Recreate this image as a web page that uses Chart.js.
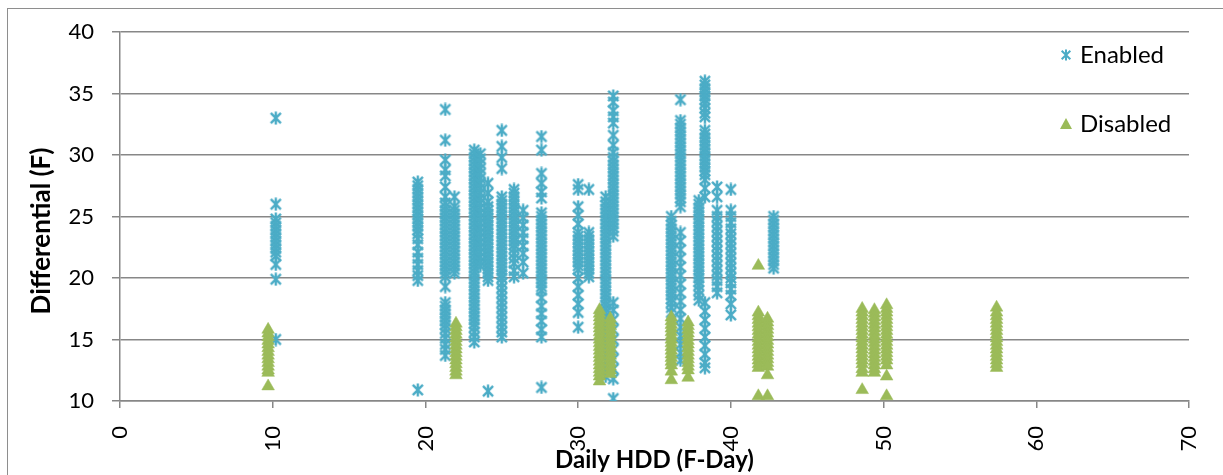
<!DOCTYPE html>
<html>
<head>
<meta charset="utf-8">
<script src="https://cdn.jsdelivr.net/npm/chart.js@4.4.1/dist/chart.umd.min.js"></script>
<style>
  html, body { margin: 0; padding: 0; background: #fff; }
  #wrap { width: 1223px; height: 475px; }
</style>
</head>
<body>
<div id="wrap"><canvas id="c" width="1223" height="475"></canvas></div>
<script>
// ---- Data ----
const seriesNames = ['Enabled', 'Disabled'];

// Daily HDD (F-Day) for each day with "Enabled" readings
const enabledHDD = [10.2, 19.5, 21.3, 21.9, 23.2, 23.6, 24.1, 25.0, 25.8, 26.4, 27.6, 30.0, 30.7, 31.8, 32.3, 36.1, 36.7, 37.9, 38.3, 39.1, 40.0, 42.8];
// Differential (F) readings for each of those days
const enabledDiff = [
  [33.0, 26.0, 24.8, 24.5, 24.2, 23.9, 23.6, 23.3, 23.0, 22.7, 22.4, 22.1, 21.8, 21.1, 19.9, 15.0],
  [27.8, 27.5, 27.2, 26.9, 26.6, 26.3, 26.0, 25.7, 25.4, 25.1, 24.8, 24.5, 24.2, 23.9, 23.6, 23.2, 22.7, 22.1, 21.6, 21.1, 20.6, 20.2, 19.8, 10.9],
  [33.7, 31.2, 29.6, 28.8, 28.3, 27.4, 26.6, 26.1, 25.8, 25.5, 25.2, 24.9, 24.6, 24.3, 24.0, 23.7, 23.4, 23.1, 22.8, 22.5, 22.2, 21.9, 21.6, 21.3, 21.0, 20.7, 20.4, 20.1, 19.3, 18.0, 17.7, 17.4, 17.1, 16.8, 16.5, 16.2, 15.9, 15.5, 15.1, 14.6, 14.2, 13.7],
  [26.6, 25.8, 25.5, 25.2, 24.9, 24.6, 24.3, 24.0, 23.7, 23.4, 23.1, 22.8, 22.5, 22.2, 21.9, 21.6, 21.3, 21.0, 20.7, 20.4],
  [30.4, 30.1, 29.8, 29.5, 29.2, 28.9, 28.6, 28.3, 28.0, 27.7, 27.4, 27.1, 26.8, 26.5, 26.2, 25.9, 25.6, 25.3, 25.0, 24.7, 24.4, 24.1, 23.8, 23.5, 23.2, 22.9, 22.6, 22.3, 22.0, 21.7, 21.4, 21.1, 20.8, 20.5, 20.2, 19.9, 19.6, 19.3, 19.0, 18.7, 18.4, 18.1, 17.8, 17.5, 17.2, 16.9, 16.6, 16.3, 16.0, 15.6, 15.2, 14.8],
  [30.1, 29.7, 29.3, 28.9, 28.5, 28.1, 27.7, 27.3, 26.9, 26.5, 26.1, 25.7, 25.3, 24.9, 24.5, 24.1, 23.7, 23.3, 22.9, 22.5, 22.1, 21.7, 21.3, 21.0],
  [27.7, 26.9, 26.2, 25.8, 25.5, 25.2, 24.9, 24.6, 24.3, 24.0, 23.7, 23.4, 23.1, 22.8, 22.5, 22.2, 21.9, 21.6, 21.3, 21.0, 20.7, 20.4, 20.1, 19.8, 10.8],
  [32.0, 30.7, 29.8, 28.9, 26.6, 26.3, 26.0, 25.7, 25.4, 25.1, 24.8, 24.5, 24.2, 23.9, 23.6, 23.3, 23.0, 22.7, 22.4, 22.1, 21.8, 21.5, 21.2, 20.9, 20.6, 20.3, 20.0, 19.6, 19.2, 18.8, 18.4, 18.0, 17.6, 17.2, 16.8, 16.4, 16.0, 15.6, 15.2],
  [27.2, 26.9, 26.6, 26.3, 26.0, 25.7, 25.4, 25.1, 24.8, 24.5, 24.2, 23.9, 23.6, 23.3, 23.0, 22.7, 22.4, 22.0, 21.6, 21.2, 20.6, 20.1],
  [25.5, 24.9, 24.3, 23.7, 23.2, 22.6, 22.0, 21.3, 20.4],
  [31.5, 30.4, 28.5, 27.7, 27.0, 26.5, 25.3, 25.0, 24.7, 24.4, 24.1, 23.8, 23.5, 23.2, 22.9, 22.6, 22.3, 22.0, 21.7, 21.4, 21.1, 20.8, 20.5, 20.2, 19.9, 19.6, 19.3, 19.0, 18.4, 17.7, 17.1, 16.5, 15.8, 15.2, 11.1],
  [27.6, 27.2, 25.8, 25.1, 24.4, 23.7, 23.4, 23.1, 22.8, 22.5, 22.2, 21.9, 21.6, 21.3, 21.0, 20.7, 20.0, 19.3, 18.6, 17.9, 17.2, 16.0],
  [27.2, 23.7, 23.4, 23.1, 22.8, 22.5, 22.2, 21.9, 21.6, 21.3, 21.0, 20.7, 20.4, 20.1],
  [26.6, 26.2, 25.9, 25.6, 25.3, 25.0, 24.7, 24.4, 24.1, 23.8, 23.5, 23.2, 22.9, 22.6, 22.3, 22.0, 21.7, 21.4, 21.1, 20.8, 20.5, 20.2, 19.9, 19.6, 19.3, 19.0, 18.7, 18.4, 18.1, 17.8, 17.5, 17.2, 16.9, 16.5, 16.0, 15.5, 15.0, 14.4, 13.8, 13.2, 12.6, 12.0],
  [34.8, 34.3, 33.6, 33.1, 32.6, 31.6, 30.8, 30.2, 29.8, 29.5, 29.2, 28.9, 28.6, 28.3, 28.0, 27.7, 27.4, 27.1, 26.8, 26.5, 26.2, 25.9, 25.6, 25.3, 25.0, 24.7, 24.4, 24.1, 23.8, 23.4, 18.0, 17.4, 16.6, 15.8, 15.0, 14.2, 13.4, 12.6, 11.8, 10.2],
  [25.0, 24.6, 24.3, 24.0, 23.7, 23.4, 23.1, 22.8, 22.5, 22.2, 21.9, 21.6, 21.3, 21.0, 20.7, 20.4, 20.1, 19.8, 19.5, 19.2, 18.9, 18.6, 18.3, 18.0, 17.6, 17.2],
  [34.5, 32.8, 32.5, 32.2, 31.9, 31.6, 31.3, 31.0, 30.7, 30.4, 30.1, 29.8, 29.5, 29.2, 28.9, 28.6, 28.3, 28.0, 27.7, 27.4, 27.1, 26.8, 26.5, 26.2, 25.8, 23.7, 23.0, 22.3, 21.6, 20.9, 20.2, 19.5, 18.8, 18.1, 17.4, 16.7, 16.0, 15.3, 14.6, 13.9, 13.3],
  [26.3, 26.0, 25.7, 25.4, 25.1, 24.8, 24.5, 24.2, 23.9, 23.6, 23.3, 23.0, 22.7, 22.4, 22.1, 21.8, 21.5, 21.2, 20.9, 20.6, 20.3, 20.0, 19.7, 19.4, 19.0, 18.6, 18.2],
  [36.0, 35.7, 35.4, 35.1, 34.8, 34.5, 34.2, 33.8, 33.4, 33.1, 32.0, 31.7, 31.4, 31.1, 30.8, 30.5, 30.2, 29.9, 29.6, 29.3, 29.0, 28.7, 28.4, 28.0, 27.3, 26.6, 18.0, 17.3, 16.6, 15.9, 15.2, 14.5, 13.8, 13.1, 12.7],
  [27.4, 26.6, 25.5, 25.0, 24.6, 24.2, 23.8, 23.4, 23.0, 22.6, 22.2, 21.8, 21.4, 21.0, 20.6, 20.2, 19.8, 19.3, 18.8],
  [27.2, 25.5, 25.0, 24.5, 24.0, 23.6, 23.2, 22.8, 22.4, 22.0, 21.6, 21.2, 20.8, 20.4, 20.0, 19.6, 19.1, 18.6, 17.9, 17.0],
  [25.0, 24.7, 24.4, 24.1, 23.8, 23.5, 23.2, 22.9, 22.6, 22.3, 22.0, 21.7, 21.4, 21.1, 20.8]
];

// Daily HDD (F-Day) for each day with "Disabled" readings
const disabledHDD = [9.7, 22.0, 31.4, 32.1, 36.1, 37.2, 41.8, 42.4, 48.6, 49.4, 50.2, 57.4];
const disabledDiff = [
  [15.8, 15.5, 15.2, 14.9, 14.6, 14.3, 14.0, 13.7, 13.4, 13.1, 12.8, 12.5, 12.3, 11.2],
  [16.3, 16.0, 15.7, 15.4, 15.1, 14.8, 14.5, 14.2, 13.9, 13.6, 13.3, 13.0, 12.7, 12.4, 12.1],
  [17.4, 17.1, 16.8, 16.5, 16.2, 15.9, 15.6, 15.3, 15.0, 14.7, 14.4, 14.1, 13.8, 13.5, 13.2, 12.9, 12.6, 12.3, 12.0, 11.6],
  [16.7, 16.4, 16.1, 15.8, 15.5, 15.2, 14.9, 14.6, 14.3, 14.0, 13.7, 13.4, 13.1, 12.8, 12.5, 12.2],
  [16.8, 16.5, 16.2, 15.9, 15.6, 15.3, 15.0, 14.7, 14.4, 14.1, 13.8, 13.5, 13.2, 12.9, 12.4, 11.7],
  [16.4, 16.1, 15.8, 15.5, 15.2, 14.9, 14.6, 14.3, 14.0, 13.7, 13.4, 13.1, 12.8, 12.5, 11.9],
  [21.0, 17.2, 16.9, 16.6, 16.3, 16.0, 15.7, 15.4, 15.1, 14.8, 14.5, 14.2, 13.9, 13.6, 13.3, 13.0, 12.7, 10.4],
  [16.7, 16.4, 16.1, 15.8, 15.5, 15.2, 14.9, 14.6, 14.3, 14.0, 13.7, 13.4, 13.1, 12.8, 12.1, 10.4],
  [17.5, 17.2, 16.9, 16.6, 16.3, 16.0, 15.7, 15.4, 15.1, 14.8, 14.5, 14.2, 13.9, 13.6, 13.3, 13.0, 12.6, 12.3, 10.9],
  [17.4, 17.1, 16.8, 16.5, 16.2, 15.9, 15.6, 15.3, 15.0, 14.7, 14.4, 14.1, 13.8, 13.5, 13.2, 12.9, 12.6, 12.3],
  [17.8, 17.5, 17.2, 16.9, 16.6, 16.3, 16.0, 15.7, 15.4, 15.1, 14.8, 14.5, 14.2, 13.9, 13.6, 13.3, 12.9, 12.0, 10.4],
  [17.6, 17.2, 16.9, 16.6, 16.3, 16.0, 15.7, 15.4, 15.1, 14.8, 14.5, 14.2, 13.9, 13.6, 13.3, 13.0, 12.7]
];

const xTitle = 'Daily HDD (F-Day)';
const yTitle = 'Differential (F)';

// ---- Build points ----
function toPoints(xs, ys) {
  const pts = [];
  xs.forEach((x, i) => ys[i].forEach(y => pts.push({ x: x, y: y })));
  return pts;
}

const BLUE = '#4BACC6';
const GREEN = '#9BBB59';
const GRID = '#878787';
const FONT = 'Lato, "Liberation Sans", sans-serif';

// Asterisk marker (x with a vertical bar) like Excel's "*" marker
function makeAsterisk(size, color, lw) {
  const c = document.createElement('canvas');
  c.width = size; c.height = size;
  const g = c.getContext('2d');
  g.strokeStyle = color; g.lineWidth = lw; g.lineCap = 'butt';
  const m = size / 2, a = size * 0.36;
  g.beginPath();
  g.moveTo(m - a, m - a); g.lineTo(m + a, m + a);
  g.moveTo(m + a, m - a); g.lineTo(m - a, m + a);
  g.moveTo(m, 0.5); g.lineTo(m, size - 0.5);
  g.stroke();
  return c;
}
const asterisk = makeAsterisk(14, BLUE, 2.4);
const legendAsterisk = makeAsterisk(12, BLUE, 2);

const bgPlugin = {
  id: 'bg',
  beforeDraw(chart) {
    const ctx = chart.ctx;
    ctx.save();
    ctx.fillStyle = '#fff';
    ctx.fillRect(0, 0, chart.width, chart.height);
    ctx.strokeStyle = '#8e8e8e';
    ctx.lineWidth = 1;
    ctx.strokeRect(7.5, 8.5, 1400, 600);
    ctx.restore();
  },
  afterDraw(chart) {
    const ctx = chart.ctx;
    const area = chart.chartArea;
    ctx.save();
    // y-axis title (rotated), placed like the reference
    ctx.font = 'bold 26px ' + FONT;
    ctx.fillStyle = '#000';
    ctx.textAlign = 'center';
    ctx.textBaseline = 'middle';
    ctx.translate(42, 231);
    ctx.rotate(-Math.PI / 2);
    ctx.fillText(yTitle, 0, 0);
    ctx.restore();

    ctx.save();
    ctx.font = '24px ' + FONT;
    ctx.fillStyle = '#000';
    ctx.textBaseline = 'middle';
    ctx.textAlign = 'left';
    // Enabled
    ctx.drawImage(legendAsterisk, 1066 - 6, 55 - 6, 12, 12);
    ctx.fillText(seriesNames[0], 1080, 55);
    // Disabled
    ctx.fillStyle = GREEN;
    ctx.beginPath();
    ctx.moveTo(1066, 118); ctx.lineTo(1072, 129); ctx.lineTo(1060, 129); ctx.closePath();
    ctx.fill();
    ctx.fillStyle = '#000';
    ctx.fillText(seriesNames[1], 1080, 124);
    ctx.restore();
  }
};

new Chart(document.getElementById('c'), {
  type: 'scatter',
  data: {
    datasets: [
      {
        label: seriesNames[0],
        data: toPoints(enabledHDD, enabledDiff),
        pointStyle: asterisk,
        pointRadius: 7,
        order: 1
      },
      {
        label: seriesNames[1],
        data: toPoints(disabledHDD, disabledDiff),
        pointStyle: 'triangle',
        pointRadius: 7.3,
        backgroundColor: GREEN,
        borderColor: GREEN,
        borderWidth: 0.5,
        order: 0
      }
    ]
  },
  plugins: [bgPlugin],
  options: {
    responsive: false,
    animation: false,
    devicePixelRatio: 1,
    layout: { padding: { top: 32, right: 34, bottom: 0, left: 0 } },
    plugins: { legend: { display: false }, tooltip: { enabled: false } },
    scales: {
      x: {
        type: 'linear',
        min: 0, max: 70,
        afterFit(s) { s.height = 74; s.paddingLeft = 0; s.paddingRight = 0; },
        ticks: { stepSize: 10, minRotation: 90, maxRotation: 90, padding: 18, color: '#000', font: { family: FONT, size: 22 } },
        grid: { drawOnChartArea: false, drawTicks: true, tickLength: 7, color: GRID, lineWidth: 1.5 },
        border: { color: GRID, width: 1.5 },
        title: { display: true, text: xTitle, color: '#000', font: { family: FONT, size: 24, weight: 'bold' }, padding: { top: 0, bottom: 0 } }
      },
      y: {
        type: 'linear',
        min: 10, max: 40,
        afterFit(s) { s.width = 120; s.paddingTop = 0; s.paddingBottom = 0; },
        ticks: { stepSize: 5, padding: 18, color: '#000', font: { family: FONT, size: 22 } },
        grid: { drawTicks: true, tickLength: 8, color: GRID, lineWidth: 1.5 },
        border: { color: GRID, width: 1.5 },
        title: { display: false }
      }
    }
  }
});
</script>
</body>
</html>
